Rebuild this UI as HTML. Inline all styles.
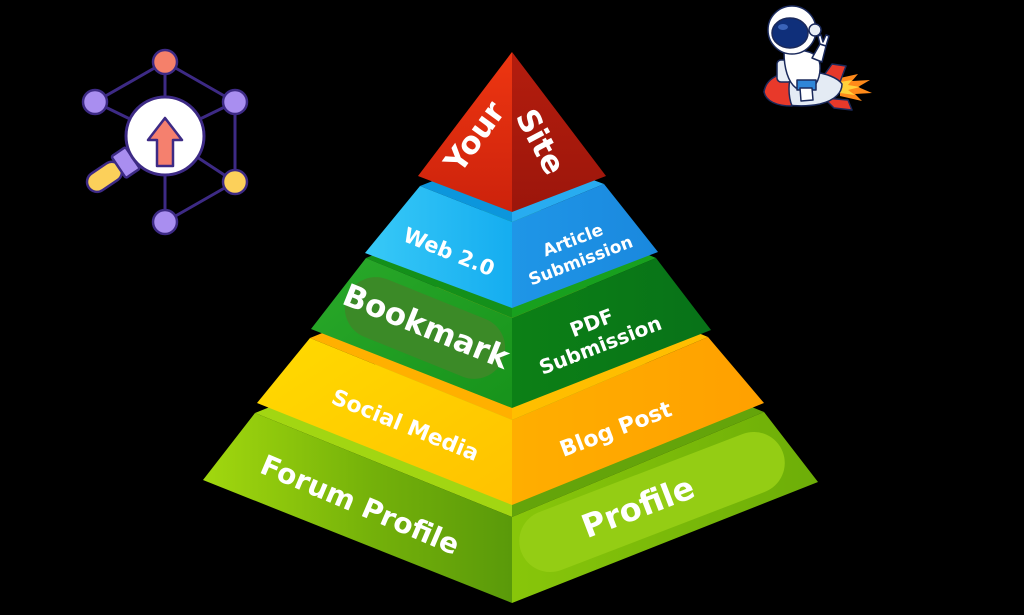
<!DOCTYPE html>
<html>
<head>
<meta charset="utf-8">
<style>
  html, body { margin: 0; padding: 0; background: #000; }
  body { width: 1024px; height: 615px; overflow: hidden; }
  svg { display: block; }
  text { font-family: "DejaVu Sans", "Liberation Sans", sans-serif; font-weight: bold; fill: #ffffff; }
</style>
</head>
<body>
<svg width="1024" height="615" viewBox="0 0 1024 615" xmlns="http://www.w3.org/2000/svg">
  <defs>
    <linearGradient id="redL" x1="0" y1="0" x2="0" y2="1">
      <stop offset="0" stop-color="#ee3611"/><stop offset="1" stop-color="#cc220c"/>
    </linearGradient>
    <linearGradient id="redR" x1="0" y1="0" x2="0" y2="1">
      <stop offset="0" stop-color="#b41d0e"/><stop offset="1" stop-color="#9c160b"/>
    </linearGradient>
    <linearGradient id="blueL" x1="0" y1="0" x2="1" y2="0">
      <stop offset="0" stop-color="#38c9f7"/><stop offset="1" stop-color="#15adf0"/>
    </linearGradient>
    <linearGradient id="blueR" x1="0" y1="0" x2="1" y2="0">
      <stop offset="0" stop-color="#1f96e7"/><stop offset="1" stop-color="#1a88de"/>
    </linearGradient>
    <linearGradient id="greenL" x1="0" y1="0" x2="1" y2="1">
      <stop offset="0" stop-color="#2aa92a"/><stop offset="1" stop-color="#17931b"/>
    </linearGradient>
    <linearGradient id="greenR" x1="0" y1="0" x2="1" y2="0">
      <stop offset="0" stop-color="#0c8016"/><stop offset="1" stop-color="#087218"/>
    </linearGradient>
    <linearGradient id="yelL" x1="0" y1="0" x2="1" y2="1">
      <stop offset="0" stop-color="#ffda00"/><stop offset="1" stop-color="#ffc200"/>
    </linearGradient>
    <linearGradient id="yelR" x1="0" y1="0" x2="1" y2="0">
      <stop offset="0" stop-color="#ffae00"/><stop offset="1" stop-color="#ffa000"/>
    </linearGradient>
    <linearGradient id="limeL" x1="0" y1="0" x2="1" y2="0">
      <stop offset="0" stop-color="#a2d80e"/><stop offset="0.55" stop-color="#74b10a"/><stop offset="1" stop-color="#5a9a0a"/>
    </linearGradient>
    <linearGradient id="limeR" x1="0" y1="0" x2="1" y2="0">
      <stop offset="0" stop-color="#88c60a"/><stop offset="1" stop-color="#6dae08"/>
    </linearGradient>
    <clipPath id="clipGreenL"><polygon points="366,258 311,329 512,408 512,318"/></clipPath>
    <clipPath id="clipLimeR"><polygon points="512,517 512,603 818,482 764,412"/></clipPath>
  </defs>

  <rect width="1024" height="615" fill="#000"/>

  <!-- LIME layer -->
  <polygon points="255,413 512,517 512,309" fill="#a2d612"/>
  <polygon points="512,517 764,412 512,309" fill="#64a40a"/>
  <polygon points="255,413 203,480 512,603 512,517" fill="url(#limeL)"/>
  <polygon points="512,517 512,603 818,482 764,412" fill="url(#limeR)"/>
  <g clip-path="url(#clipLimeR)">
    <rect x="-140" y="-31" width="280" height="62" rx="31" fill="#94cd14" transform="translate(652,502) rotate(-21)"/>
  </g>

  <!-- YELLOW layer -->
  <polygon points="310,338 512,420 512,256" fill="#ffb000"/>
  <polygon points="512,420 708,337 512,256" fill="#ffbe00"/>
  <polygon points="310,338 257,403 512,505 512,420" fill="url(#yelL)"/>
  <polygon points="512,420 512,505 764,403 708,337" fill="url(#yelR)"/>

  <!-- GREEN layer -->
  <polygon points="366,258 512,318 512,198" fill="#14901a"/>
  <polygon points="512,318 656,258 512,198" fill="#18a01e"/>
  <polygon points="366,258 311,329 512,408 512,318" fill="url(#greenL)"/>
  <polygon points="512,318 512,408 711,330 656,258" fill="url(#greenR)"/>
  <g clip-path="url(#clipGreenL)">
    <rect x="-84" y="-31" width="168" height="62" rx="31" fill="#3b8a27" transform="translate(425,328) rotate(22)"/>
  </g>

  <!-- BLUE layer -->
  <polygon points="420,186 512,222 512,150" fill="#0c96dc"/>
  <polygon points="512,222 604,184 512,150" fill="#28acf0"/>
  <polygon points="420,186 365,253 512,308 512,222" fill="url(#blueL)"/>
  <polygon points="512,222 512,308 658,252 604,184" fill="url(#blueR)"/>

  <!-- RED top -->
  <polygon points="512,52 418,176 512,212" fill="url(#redL)"/>
  <polygon points="512,52 512,212 606,176" fill="url(#redR)"/>

  <!-- Labels -->
  <text font-size="31" text-anchor="middle" dominant-baseline="central" transform="translate(475,137) rotate(-54)">Your</text>
  <text font-size="31" text-anchor="middle" dominant-baseline="central" transform="translate(540,142) rotate(62)">Site</text>

  <text font-size="21" text-anchor="middle" dominant-baseline="central" transform="translate(449,252) rotate(22)">Web 2.0</text>
  <g transform="translate(577,251) rotate(-21)">
    <text font-size="17" text-anchor="middle" dominant-baseline="central" x="0" y="-11">Article</text>
    <text font-size="17" text-anchor="middle" dominant-baseline="central" x="0" y="11">Submission</text>
  </g>

  <text font-size="31" text-anchor="middle" dominant-baseline="central" transform="translate(426,327) rotate(22)">Bookmark</text>
  <g transform="translate(596,334) rotate(-21)">
    <text font-size="20" text-anchor="middle" dominant-baseline="central" x="0" y="-12">PDF</text>
    <text font-size="20" text-anchor="middle" dominant-baseline="central" x="0" y="12">Submission</text>
  </g>

  <text font-size="22" text-anchor="middle" dominant-baseline="central" transform="translate(405,426) rotate(22)">Social Media</text>
  <text font-size="22" text-anchor="middle" dominant-baseline="central" transform="translate(616,430) rotate(-21)">Blog Post</text>

  <text font-size="28" text-anchor="middle" dominant-baseline="central" transform="translate(360,505) rotate(23)">Forum Profile</text>
  <text font-size="32" text-anchor="middle" dominant-baseline="central" transform="translate(638,507) rotate(-21)">Profile</text>

  <!-- Left network / magnifier icon -->
  <g stroke="#3d2a85" stroke-width="3" fill="none" stroke-linecap="round">
    <line x1="165" y1="62" x2="95" y2="102"/>
    <line x1="165" y1="62" x2="235" y2="102"/>
    <line x1="165" y1="62" x2="165" y2="136"/>
    <line x1="95" y1="102" x2="165" y2="136"/>
    <line x1="235" y1="102" x2="165" y2="136"/>
    <line x1="235" y1="102" x2="235" y2="182"/>
    <line x1="235" y1="182" x2="165" y2="136"/>
    <line x1="235" y1="182" x2="165" y2="222"/>
    <line x1="165" y1="222" x2="165" y2="136"/>
  </g>
  <g stroke="#3d2a85" stroke-width="2.5">
    <circle cx="165" cy="62" r="12" fill="#f5806a"/>
    <circle cx="95" cy="102" r="12" fill="#a98ef0"/>
    <circle cx="235" cy="102" r="12" fill="#a98ef0"/>
    <circle cx="235" cy="182" r="12" fill="#fcd05a"/>
    <circle cx="165" cy="222" r="12" fill="#a98ef0"/>
  </g>
  <g transform="translate(165,136) rotate(146)" stroke="#3d2a85" stroke-width="2.5">
    <rect x="54" y="-10" width="38" height="20" rx="10" fill="#fcd05a"/>
    <rect x="39" y="-13" width="17" height="26" rx="2" fill="#a98ef0"/>
  </g>
  <circle cx="165" cy="136" r="39" fill="#ffffff" stroke="#3d2a85" stroke-width="3"/>
  <polygon points="165,118 182,140 173,140 173,166 157,166 157,140 148,140" fill="#f5806e" stroke="#3d2a85" stroke-width="2.5" stroke-linejoin="round"/>

  <!-- Astronaut on rocket -->
  <g stroke="#1b2a5c" stroke-width="1.5" stroke-linejoin="round">
    <!-- flame -->
    <path d="M840,78 L858,74 L852,81 L870,80 L858,87 L872,93 L855,94 L862,101 L840,96 Z" fill="#ff8a1a" stroke="none"/>
    <path d="M840,82 L852,80 L848,85 L860,87 L848,90 L855,95 L840,93 Z" fill="#ffd23a" stroke="none"/>
    <!-- fins -->
    <path d="M822,78 L832,64 L846,66 L840,82 Z" fill="#e8392a"/>
    <path d="M824,98 L848,100 L852,110 L834,108 Z" fill="#e8392a"/>
    <!-- rocket body -->
    <path d="M764,92 C766,78 790,70 812,72 C826,73 838,78 842,84 C842,92 836,100 820,104 C800,108 770,106 764,92 Z" fill="#e4ebf4"/>
    <path d="M764,92 C766,78 780,73 792,72 C788,82 788,96 792,106 C776,106 766,101 764,92 Z" fill="#e8392a"/>
    <!-- backpack -->
    <rect x="777" y="60" width="15" height="22" rx="4" fill="#e9eef6"/>
    <!-- body -->
    <path d="M784,52 C794,48 812,50 818,58 C822,66 820,80 814,86 L796,88 C788,82 784,68 784,52 Z" fill="#ffffff"/>
    <!-- raised arm -->
    <path d="M812,58 L820,44 L826,46 L822,62 Z" fill="#ffffff"/>
    <path d="M820,44 L818,36 L821,35 L823,42 L826,35 L829,36 L826,46 Z" fill="#ffffff"/>
    <!-- shorts -->
    <path d="M797,80 L816,80 L816,90 L797,90 Z" fill="#2f86d8"/>
    <!-- leg -->
    <path d="M800,88 L812,88 L813,100 L801,101 Z" fill="#ffffff"/>
    <!-- helmet -->
    <circle cx="792" cy="30" r="24" fill="#ffffff"/>
    <circle cx="815" cy="30" r="6" fill="#e9eef6"/>
    <ellipse cx="790" cy="33" rx="18" ry="15" fill="#0f2f7a"/>
  </g>
  <ellipse cx="783" cy="27" rx="5" ry="3" fill="#3a63b8"/>
</svg>
</body>
</html>
